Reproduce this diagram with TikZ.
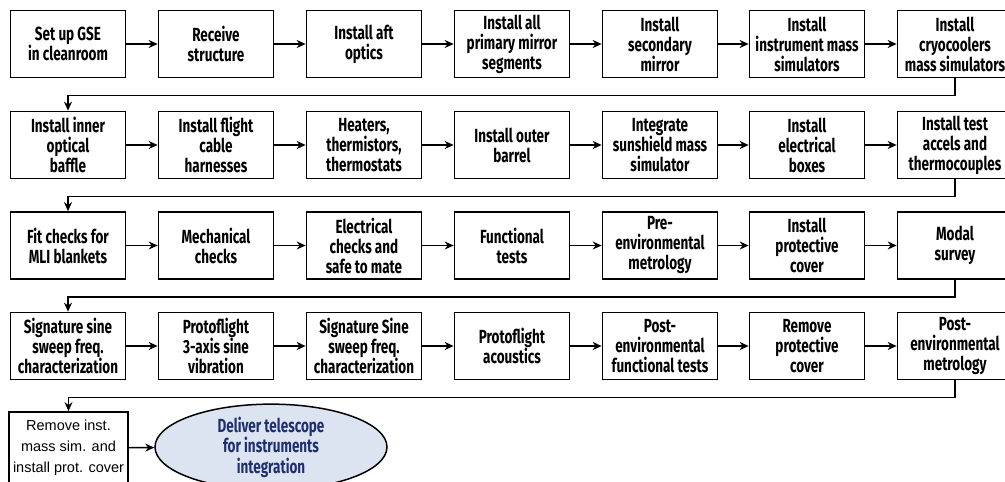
\documentclass[tikz,border=0pt]{standalone}
\usepackage{fontspec}
\setmainfont{Fira Sans}[FakeStretch=0.71]
\newfontfamily\arialf{Liberation Sans}
\usetikzlibrary{arrows.meta,shapes.geometric}
\definecolor{ellfill}{HTML}{DDE4F1}
\definecolor{elltext}{HTML}{1E2F70}
\begin{document}
\begin{tikzpicture}[x=1pt,y=-1pt,
  stepbox/.style={draw, line width=1.7pt, minimum width=115pt, minimum height=67pt, inner sep=0pt, align=center, font=\fontsize{19}{20}\selectfont\bfseries},
  flow/.style={line width=1.4pt, -{Stealth[length=9pt,width=8pt]}}]
\useasboundingbox (0,0) rectangle (1005,482);
\clip (0,0) rectangle (1005,482);
\fill[white] (0,0) rectangle (1005,482);
% row 1
\node[stepbox] (a1) at (68,44) {Set up GSE\\in cleanroom};
\node[stepbox] (a2) at (216,44) {Receive\\structure};
\node[stepbox] (a3) at (364,44) {Install aft\\optics};
\node[stepbox] (a4) at (512,44) {Install all\\primary mirror\\segments};
\node[stepbox] (a5) at (660,44) {Install\\secondary\\mirror};
\node[stepbox] (a6) at (807,44) {Install\\instrument mass\\simulators};
\node[stepbox] (a7) at (955,44) {Install\\cryocoolers\\mass simulators};
% row 2
\node[stepbox] (b1) at (68,145) {Install inner\\optical\\baffle};
\node[stepbox] (b2) at (216,145) {Install flight\\cable\\harnesses};
\node[stepbox] (b3) at (364,145) {Heaters,\\thermistors,\\thermostats};
\node[stepbox] (b4) at (512,145) {Install outer\\barrel};
\node[stepbox] (b5) at (660,145) {Integrate\\sunshield mass\\simulator};
\node[stepbox] (b6) at (807,145) {Install\\electrical\\boxes};
\node[stepbox] (b7) at (955,145) {Install test\\accels and\\thermocouples};
% row 3
\node[stepbox] (c1) at (68,245.5) {Fit checks for\\MLI blankets};
\node[stepbox] (c2) at (216,245.5) {Mechanical\\checks};
\node[stepbox] (c3) at (364,245.5) {Electrical\\checks and\\safe to mate};
\node[stepbox] (c4) at (512,245.5) {Functional\\tests};
\node[stepbox] (c5) at (660,245.5) {Pre-\\environmental\\metrology};
\node[stepbox] (c6) at (807,245.5) {Install\\protective\\cover};
\node[stepbox] (c7) at (955,245.5) {Modal\\survey};
% row 4
\node[stepbox] (d1) at (68,346) {Signature sine\\sweep freq.\\characterization};
\node[stepbox] (d2) at (216,346) {Protoflight\\3-axis sine\\vibration};
\node[stepbox] (d3) at (364,346) {Signature Sine\\sweep freq.\\characterization};
\node[stepbox] (d4) at (512,346) {Protoflight\\acoustics};
\node[stepbox] (d5) at (660,346) {Post-\\environmental\\functional tests};
\node[stepbox] (d6) at (807,346) {Remove\\protective\\cover};
\node[stepbox] (d7) at (955,346) {Post-\\environmental\\metrology};
% row 5
\node[stepbox, minimum width=119pt, minimum height=72pt, font=\arialf\fontsize{14.5}{21}\selectfont] (e1) at (68.5,448) {Remove inst.\\mass sim. and\\install prot. cover};
\node[ellipse, draw, line width=1.5pt, fill=ellfill, minimum width=232pt, minimum height=70pt, inner sep=0pt, align=center, text=elltext, font=\fontsize{19}{20.5}\selectfont\bfseries] (e2) at (271,447) {Deliver telescope\\for instruments\\integration};
% horizontal arrows
\foreach \r in {a,b,c,d}{
  \draw[flow] (\r1) -- (\r2);
  \draw[flow] (\r2) -- (\r3);
  \draw[flow] (\r3) -- (\r4);
  \draw[flow] (\r4) -- (\r5);
  \draw[flow] (\r5) -- (\r6);
  \draw[flow] (\r6) -- (\r7);
}
\draw[flow] (e1) -- (e2);
% row returns
\draw[flow] (a7.south) -- ++(0,17) -| (b1.north);
\draw[flow] (b7.south) -- ++(0,17) -| (c1.north);
\draw[flow] (c7.south) -- ++(0,17) -| (d1.north);
\draw[flow] (d7.south) -- ++(0,17) -| (e1.north);
\end{tikzpicture}
\end{document}
